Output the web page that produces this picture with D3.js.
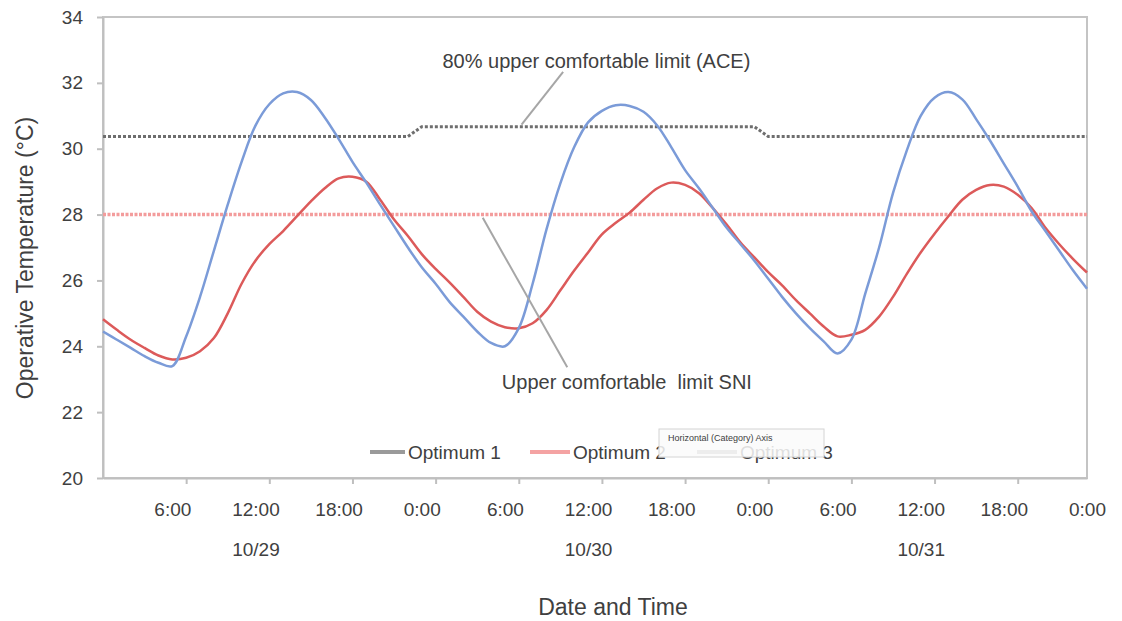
<!DOCTYPE html>
<html>
<head>
<meta charset="utf-8">
<script src="https://cdn.jsdelivr.net/npm/d3@7/dist/d3.min.js"></script>
<style>
  body { margin: 0; background: #fff; }
  text { font-family: "Liberation Sans", Arial, sans-serif; fill: #404040; }
</style>
</head>
<body>
<div id="chart"></div>
<script>
// Data (hourly, hour 1 = 1:00 on 10/29)
var hours = d3.range(1, 73);

var case_a_temp = [
    24.45, 24.2, 23.95, 23.7, 23.5, 23.4, 24.3, 25.5, 26.9, 28.3, 29.6, 30.7,
    31.35, 31.68, 31.72, 31.48, 30.95, 30.3, 29.6, 28.97, 28.3, 27.65, 27.0, 26.4,
    25.9, 25.35, 24.9, 24.45, 24.1, 24.0, 24.55, 25.9, 27.55, 28.95, 30.05, 30.8,
    31.15, 31.32, 31.3, 31.12, 30.7, 30.05, 29.35, 28.8, 28.2, 27.6, 27.1, 26.6,
    26.05, 25.5, 25.0, 24.55, 24.15, 23.78, 24.2, 25.6, 27.0, 28.65, 29.95, 31.0,
    31.55, 31.72, 31.5, 30.9, 30.25, 29.55, 28.85, 28.1, 27.5, 26.9, 26.3, 25.75
];

var case_b_temp = [
    24.82, 24.5, 24.2, 23.95, 23.72, 23.6, 23.65, 23.85, 24.25, 25.0, 25.9, 26.6,
    27.1, 27.5, 27.95, 28.4, 28.8, 29.1, 29.15, 29.0, 28.45, 27.85, 27.35, 26.8,
    26.35, 25.94, 25.5, 25.05, 24.75, 24.58, 24.55, 24.7, 25.1, 25.7, 26.3, 26.85,
    27.4, 27.75, 28.06, 28.45, 28.8, 28.97, 28.9, 28.65, 28.2, 27.7, 27.15, 26.7,
    26.25, 25.85, 25.4, 25.0, 24.6, 24.3, 24.35, 24.5, 24.9, 25.5, 26.2, 26.85,
    27.42, 27.95, 28.45, 28.75, 28.9, 28.85, 28.6, 28.2, 27.6, 27.1, 26.65, 26.24
];

var ace_limit = [
    30.37, 30.37, 30.37, 30.37, 30.37, 30.37, 30.37, 30.37, 30.37, 30.37, 30.37, 30.37,
    30.37, 30.37, 30.37, 30.37, 30.37, 30.37, 30.37, 30.37, 30.37, 30.37, 30.37, 30.67,
    30.67, 30.67, 30.67, 30.67, 30.67, 30.67, 30.67, 30.67, 30.67, 30.67, 30.67, 30.67,
    30.67, 30.67, 30.67, 30.67, 30.67, 30.67, 30.67, 30.67, 30.67, 30.67, 30.67, 30.67,
    30.37, 30.37, 30.37, 30.37, 30.37, 30.37, 30.37, 30.37, 30.37, 30.37, 30.37, 30.37,
    30.37, 30.37, 30.37, 30.37, 30.37, 30.37, 30.37, 30.37, 30.37, 30.37, 30.37, 30.37
];

var sni_limit = 28;

// axis labels
var y_ticks      = [ 20, 22, 24, 26, 28, 30, 32, 34 ];
var tick_hours   = [ 7, 13, 19, 25, 31, 37, 43, 49, 55, 61, 67 ];
var time_hours   = [ 6, 12, 18, 24, 30, 36, 42, 48, 54, 60, 66, 72 ];
var time_labels  = [ '6:00', '12:00', '18:00', '0:00', '6:00', '12:00', '18:00', '0:00', '6:00', '12:00', '18:00', '0:00' ];
var date_hours   = [ 12, 36, 60 ];
var date_labels  = [ '10/29', '10/30', '10/31' ];
var legend_names = [ 'Optimum 1', 'Optimum 2', 'Optimum 3' ];

var chart_width  = 1122;
var chart_height = 621;

// scales
var x = d3.scaleLinear().domain([1, 72]).range([103, 1087]);
var y = d3.scaleLinear().domain([20, 34]).range([478, 17]);

var svg = d3.select('#chart')
    .append('svg')
    .attr('width', chart_width)
    .attr('height', chart_height);

// plot box
svg.append('rect')
    .attr('x', x(1))
    .attr('y', y(34))
    .attr('width', x(72) - x(1))
    .attr('height', y(20) - y(34))
    .attr('fill', 'none')
    .attr('stroke', '#c4c4c4')
    .attr('stroke-width', 2);

// y axis
var y_axis = svg.append('g')
    .attr('transform', 'translate(' + x(1) + ',0)')
    .call(d3.axisLeft(y).tickValues(y_ticks).tickSize(6).tickSizeOuter(0).tickPadding(14));

// x axis: tick marks, time labels, date labels
var x_ticks = svg.append('g')
    .attr('transform', 'translate(0,' + y(20) + ')')
    .call(d3.axisBottom(x).tickValues(tick_hours).tickFormat('').tickSize(6).tickSizeOuter(0));

var x_times = svg.append('g')
    .attr('transform', 'translate(0,' + y(20) + ')')
    .call(d3.axisBottom(x).tickValues(time_hours)
        .tickFormat(function(d, i){ return time_labels[i]; })
        .tickSize(0).tickPadding(25));

var x_dates = svg.append('g')
    .attr('transform', 'translate(0,' + y(20) + ')')
    .call(d3.axisBottom(x).tickValues(date_hours)
        .tickFormat(function(d, i){ return date_labels[i]; })
        .tickSize(0).tickPadding(65));

[y_axis, x_ticks, x_times, x_dates].forEach(function(g){
    g.selectAll('path.domain').attr('stroke', '#bfbfbf').attr('stroke-width', 2);
    g.selectAll('.tick line').attr('stroke', '#bfbfbf').attr('stroke-width', 2);
    g.selectAll('text')
        .style('font-size', '19px')
        .style('font-family', '"Liberation Sans", Arial, sans-serif')
        .attr('fill', '#404040');
});
x_times.select('path.domain').remove();
x_dates.select('path.domain').remove();

// limit lines
var line = d3.line()
    .x(function(d){ return x(d[0]); })
    .y(function(d){ return y(d[1]); });

svg.append('path')
    .datum([[1, sni_limit], [72, sni_limit]])
    .attr('d', line)
    .attr('fill', 'none')
    .attr('stroke', '#f39c9c')
    .attr('stroke-width', 3.5)
    .attr('stroke-dasharray', '3,1.5');

svg.append('path')
    .datum(hours.map(function(h, i){ return [h, ace_limit[i]]; }))
    .attr('d', line)
    .attr('fill', 'none')
    .attr('stroke', '#6e6e6e')
    .attr('stroke-width', 3)
    .attr('stroke-dasharray', '3,2');

// temperature curves
var smooth = d3.line()
    .curve(d3.curveCatmullRom)
    .x(function(d){ return x(d[0]); })
    .y(function(d){ return y(d[1]); });

svg.append('path')
    .datum(hours.map(function(h, i){ return [h, case_b_temp[i]]; }))
    .attr('d', smooth)
    .attr('fill', 'none')
    .attr('stroke', '#dc5a5a')
    .attr('stroke-width', 2.5);

svg.append('path')
    .datum(hours.map(function(h, i){ return [h, case_a_temp[i]]; }))
    .attr('d', smooth)
    .attr('fill', 'none')
    .attr('stroke', '#7b9bd8')
    .attr('stroke-width', 2.5);

// annotations
svg.append('line')
    .attr('x1', x(34.2)).attr('y1', y(32.33))
    .attr('x2', x(31.2)).attr('y2', y(30.73))
    .attr('stroke', '#a6a6a6').attr('stroke-width', 2);

svg.append('text')
    .attr('x', x(36.6)).attr('y', y(32.45))
    .attr('text-anchor', 'middle')
    .style('font-size', '20px')
    .text('80% upper comfortable limit (ACE)');

svg.append('line')
    .attr('x1', x(28.4)).attr('y1', y(27.9))
    .attr('x2', x(34.5)).attr('y2', y(23.36))
    .attr('stroke', '#a6a6a6').attr('stroke-width', 2);

svg.append('text')
    .attr('x', x(38.8)).attr('y', y(22.7))
    .attr('text-anchor', 'middle')
    .style('font-size', '20px')
    .style('white-space', 'pre')
    .text('Upper comfortable  limit SNI');

// legend
var legend = [
    { name: legend_names[0], color: '#9a9a9a', x1: 370, x2: 405 },
    { name: legend_names[1], color: '#f4a3a3', x1: 530, x2: 570 },
    { name: legend_names[2], color: '#a0a0a0', x1: 697, x2: 737 }
];

var items = svg.selectAll('g.legend')
    .data(legend)
    .enter()
    .append('g')
    .attr('class', 'legend');

items.append('line')
    .attr('x1', function(d){ return d.x1; })
    .attr('x2', function(d){ return d.x2; })
    .attr('y1', 452).attr('y2', 452)
    .attr('stroke', function(d){ return d.color; })
    .attr('stroke-width', 4);

items.append('text')
    .attr('x', function(d){ return d.x2 + 3; })
    .attr('y', 459)
    .style('font-size', '19px')
    .text(function(d){ return d.name; });

// hover tooltip sitting over the legend
svg.append('rect')
    .attr('x', 659).attr('y', 429)
    .attr('width', 165).attr('height', 28)
    .attr('fill', '#fafafa').attr('fill-opacity', 0.85)
    .attr('stroke', '#d4d4d4');

svg.append('text')
    .attr('x', 668).attr('y', 441)
    .style('font-size', '9px')
    .attr('fill', '#595959')
    .text('Horizontal (Category) Axis');

// axis titles
svg.append('text')
    .attr('transform', 'rotate(-90)')
    .attr('x', -258).attr('y', 33)
    .attr('text-anchor', 'middle')
    .style('font-size', '23px')
    .text('Operative Temperature (°C)');

svg.append('text')
    .attr('x', 613).attr('y', 615)
    .attr('text-anchor', 'middle')
    .style('font-size', '23px')
    .text('Date and Time');
</script>
</body>
</html>
